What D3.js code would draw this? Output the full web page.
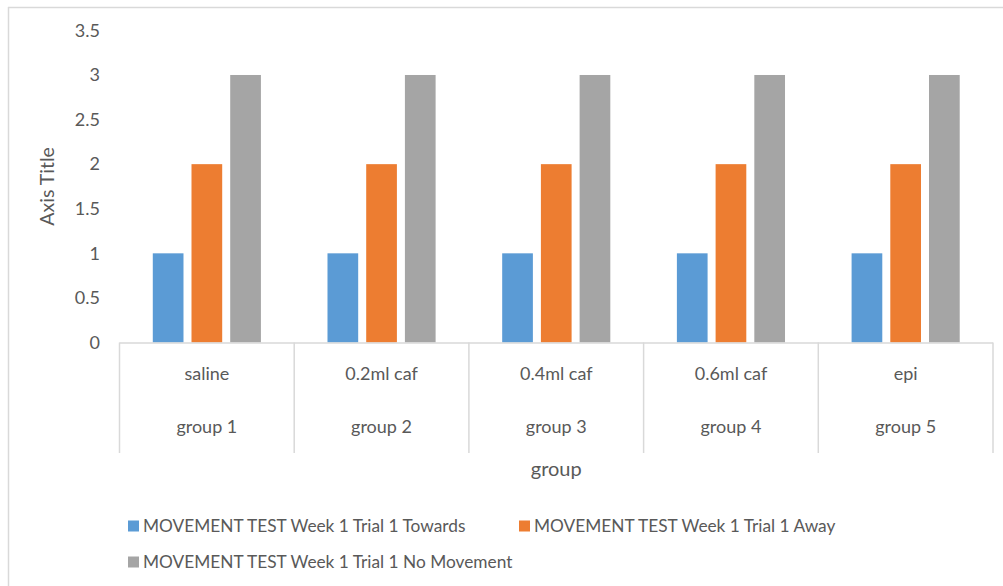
<!DOCTYPE html>
<html>
<head>
<meta charset="utf-8">
<script src="https://cdn.jsdelivr.net/npm/d3@7"></script>
<style>
  html, body { margin: 0; padding: 0; background: #fff; }
  svg { display: block; font-family: Lato, "Liberation Sans", sans-serif; }
</style>
</head>
<body>
<svg id="chart" width="1003" height="586"></svg>
<script>
// ---- data ----
const categories = ["saline", "0.2ml caf", "0.4ml caf", "0.6ml caf", "epi"];
const groups = ["group 1", "group 2", "group 3", "group 4", "group 5"];
const seriesNames = [
  "MOVEMENT TEST Week 1 Trial 1 Towards",
  "MOVEMENT TEST Week 1 Trial 1 Away",
  "MOVEMENT TEST Week 1 Trial 1 No Movement"
];
const towards = [1, 1, 1, 1, 1];
const away = [2, 2, 2, 2, 2];
const noMovement = [3, 3, 3, 3, 3];
const yTicks = [0, 0.5, 1, 1.5, 2, 2.5, 3, 3.5];
const colors = ["#5b9bd5", "#ed7d31", "#a5a5a5"];

const seriesValues = [towards, away, noMovement];
const textColor = "#595959";
const lineColor = "#d9d9d9";
const fontSize = 18;

const svg = d3.select("#chart");

// chart border (top and left visible)
svg.append("line").attr("x1", 8).attr("x2", 1003).attr("y1", 7.5).attr("y2", 7.5)
  .attr("stroke", lineColor).attr("stroke-width", 1.5);
svg.append("line").attr("x1", 8.5).attr("x2", 8.5).attr("y1", 7).attr("y2", 586)
  .attr("stroke", lineColor).attr("stroke-width", 1.5);

const plot = { left: 119.5, right: 993, top: 30.4, bottom: 342.5 };

const x = d3.scaleBand().domain(categories).range([plot.left, plot.right]).padding(0);
const xInner = d3.scaleBand().domain(seriesNames).range([0, x.bandwidth()])
  .paddingInner(0.207).paddingOuter(0.86);
const y = d3.scaleLinear().domain([0, 3.5]).range([plot.bottom, plot.top]);

// bars
const rows = categories.map((c, i) => ({ cat: c, vals: seriesNames.map((s, j) => ({ s, j, v: seriesValues[j][i] })) }));
svg.append("g").selectAll("g").data(rows).join("g")
  .attr("transform", d => `translate(${x(d.cat)},0)`)
  .selectAll("rect").data(d => d.vals).join("rect")
  .attr("x", d => xInner(d.s))
  .attr("width", xInner.bandwidth())
  .attr("y", d => y(d.v))
  .attr("height", d => y(0) - y(d.v))
  .attr("fill", d => colors[d.j]);

// y axis
const yAxis = svg.append("g").attr("transform", `translate(${plot.left},0)`)
  .call(d3.axisLeft(y).tickValues(yTicks).tickFormat(d => String(d)).tickSize(0).tickPadding(19.5));
yAxis.select(".domain").remove();
yAxis.selectAll("text").attr("fill", textColor).attr("font-size", fontSize)
  .attr("font-family", "Lato, 'Liberation Sans', sans-serif");

// x axis (multi-level)
const xAxis = svg.append("g").attr("transform", `translate(0,${plot.bottom})`)
  .call(d3.axisBottom(x).tickSize(0).tickPadding(0));
xAxis.select(".domain").remove();
xAxis.selectAll("text").attr("fill", textColor).attr("font-size", fontSize)
  .attr("font-family", "Lato, 'Liberation Sans', sans-serif")
  .attr("dy", null).attr("y", 37.5);

svg.append("line").attr("x1", plot.left).attr("x2", plot.right)
  .attr("y1", plot.bottom + 0.5).attr("y2", plot.bottom + 0.5)
  .attr("stroke", lineColor).attr("stroke-width", 1.5);

const edges = categories.map(c => x(c)).concat([x.range()[1]]);
svg.append("g").selectAll("line").data(edges).join("line")
  .attr("x1", d => d).attr("x2", d => d)
  .attr("y1", plot.bottom).attr("y2", 453)
  .attr("stroke", lineColor).attr("stroke-width", 1.5);

svg.append("g").selectAll("text").data(groups).join("text")
  .attr("x", (d, i) => x(categories[i]) + x.bandwidth() / 2)
  .attr("y", 433)
  .attr("text-anchor", "middle")
  .attr("fill", textColor).attr("font-size", fontSize)
  .text(d => d);

// axis titles
svg.append("text").attr("x", (plot.left + plot.right) / 2).attr("y", 476)
  .attr("text-anchor", "middle").attr("fill", textColor).attr("font-size", 20)
  .text("group");
svg.append("text").attr("transform", `translate(54,${(plot.top + plot.bottom) / 2}) rotate(-90)`)
  .attr("text-anchor", "middle").attr("fill", textColor).attr("font-size", 19.5)
  .text("Axis Title");

// legend
const legendPos = [[128, 526], [519, 526], [128, 562]];
const leg = svg.append("g").selectAll("g").data(seriesNames).join("g")
  .attr("transform", (d, i) => `translate(${legendPos[i][0]},${legendPos[i][1]})`);
leg.append("rect").attr("x", 0).attr("y", -5.5).attr("width", 11).attr("height", 11)
  .attr("fill", (d, i) => colors[i]);
leg.append("text").attr("x", 15).attr("y", 6).attr("fill", textColor)
  .attr("font-size", 17.3).text(d => d);
</script>
</body>
</html>
